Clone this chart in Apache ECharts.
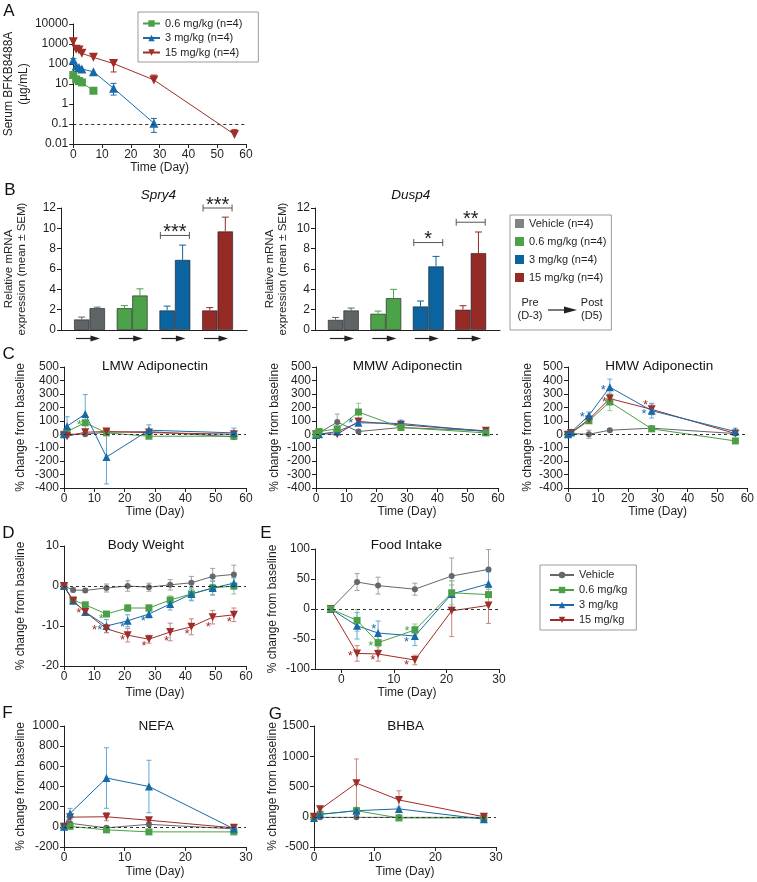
<!DOCTYPE html>
<html>
<head>
<meta charset="utf-8">
<script src="https://cdn.jsdelivr.net/npm/echarts@6.0.0/dist/echarts.min.js"></script>
<style>
html,body{margin:0;padding:0;background:#ffffff;}
#chart{width:757px;height:882px;}
</style>
</head>
<body>
<div id="chart"></div>
<script>
// ================= DATA =================
// Panel A: serum BFKB8488A (ug/mL)
const pkDays06 = [0, 1, 2, 3, 7];
const pk06 = [28, 17, 14, 12, 4.6];
const pk06Lo = [28, 17, 14, 12, 4.6];
const pk06Hi = [31, 17, 14, 12, 4.6];
const pkDays3 = [0, 1, 2, 3, 7, 14, 28];
const pk3 = [158, 79, 66, 56, 41, 6.1, 0.11];
const pk3Lo = [158, 79, 66, 56, 41, 2.8, 0.038];
const pk3Hi = [185, 79, 66, 56, 41, 10.8, 0.19];
const pkDays15 = [0, 1, 2, 3, 7, 14, 28, 56];
const pk15 = [1300, 540, 500, 340, 215, 105, 16, 0.03];
const pk15Lo = [1300, 540, 500, 340, 215, 40, 16, 0.03];
const pk15Hi = [1300, 540, 500, 340, 215, 140, 28, 0.052];
const pkLimit = 0.1;
const pkNames = ['0.6 mg/kg (n=4)', '3 mg/kg (n=4)', '15 mg/kg (n=4)'];

// Panel B: relative mRNA expression, Pre (D-3) and Post (D5)
const bGroupNames = ['Vehicle (n=4)', '0.6 mg/kg (n=4)', '3 mg/kg (n=4)', '15 mg/kg (n=4)'];
const bGroupPos = [1, 2, 3, 4];
const spryPre = [1.04, 2.15, 1.93, 1.93];
const spryPreErr = [0.23, 0.25, 0.42, 0.27];
const spryPost = [2.15, 3.4, 6.9, 9.7];
const spryPostErr = [0.1, 0.65, 1.45, 1.4];
const duspPre = [1.0, 1.6, 2.32, 2.0];
const duspPreErr = [0.23, 0.26, 0.53, 0.39];
const duspPost = [1.93, 3.14, 6.26, 7.57];
const duspPostErr = [0.23, 0.86, 0.98, 2.07];
const spryBracketPos = [3, 4];
const spryBracketY = [9.3, 12.0];
const spryBracketTxt = ['***', '***'];
const duspBracketPos = [3, 4];
const duspBracketY = [8.6, 10.6];
const duspBracketTxt = ['*', '**'];

// Panel C: adiponectin, % change from baseline
const cDays = [0, 1, 7, 14, 28, 56];
const lmwVeh = [0, 0, 0, 15, 20, -20];
const lmwVehErr = [5, 10, 10, 10, 10, 15];
const lmwLow = [0, 20, 85, 10, -15, -15];
const lmwLowErr = [5, 10, 20, 10, 10, 10];
const lmwMid = [0, 60, 150, -170, 30, 10];
const lmwMidErr = [10, 70, 145, 200, 40, 35];
const lmwHigh = [-10, -15, 15, 20, 12, 0];
const lmwHighErr = [5, 10, 10, 10, 10, 10];
const lmwStarsLow = [[5, 95]];

const mmwVeh = [0, 10, 90, 20, 50, 25];
const mmwVehErr = [5, 10, 60, 15, 10, 10];
const mmwLow = [0, 20, 40, 165, 50, 10];
const mmwLowErr = [5, 10, 15, 65, 10, 5];
const mmwMid = [-5, 0, 20, 85, 80, 20];
const mmwMidErr = [5, 5, 10, 20, 25, 10];
const mmwHigh = [0, 5, 0, 95, 70, 25];
const mmwHighErr = [5, 5, 5, 20, 15, 10];
const mmwStarsMid = [[11.5, 105]];

const hmwVeh = [0, 5, 0, 30, 45, 5];
const hmwVehErr = [5, 5, 30, 10, 10, 10];
const hmwLow = [0, 10, 100, 240, 40, -50];
const hmwLowErr = [5, 5, 10, 65, 10, 10];
const hmwMid = [0, 15, 140, 350, 175, 20];
const hmwMidErr = [5, 5, 25, 60, 55, 25];
const hmwHigh = [-5, 10, 110, 265, 185, 5];
const hmwHighErr = [5, 5, 10, 30, 40, 10];
const hmwStarsMid = [[4.75, 150], [11.8, 353], [25.4, 175]];
const hmwStarsHigh = [[12.2, 260], [25.9, 240]];

// Panel D: body weight
const dDays = [0, 3, 7, 14, 21, 28, 35, 42, 49, 56];
const bwVeh = [0, -1, -1.1, -0.5, 0, -0.3, 0.3, 0.8, 2.4, 2.9];
const bwVehErr = [0.3, 0.5, 0.5, 1, 1.3, 1, 1.3, 1.6, 2, 2.3];
const bwLow = [0, -3.5, -4.7, -7, -5.5, -5.5, -3.5, -2, -0.5, 0];
const bwLowErr = [0.3, 0.6, 0.6, 0.6, 0.8, 0.8, 1, 1.5, 1.8, 2];
const bwMid = [0, -3.7, -6.5, -10, -8.7, -7, -4.5, -2, -0.5, 0.7];
const bwMidErr = [0.3, 0.6, 0.8, 1.6, 1.5, 1, 1.5, 1.7, 1.7, 1.5];
const bwHigh = [0, -3.7, -6.5, -10.7, -12.3, -13.3, -11.5, -10.2, -7.8, -7.2];
const bwHighErr = [0.3, 0.6, 0.8, 1, 1.7, 1, 2.2, 2, 1.7, 1.7];
const bwStarsLow = [[12.3, -7.4]];
const bwStarsMid = [[11.8, -10.2], [19.3, -9.6], [26.1, -7.9]];
const bwStarsHigh = [[4.85, -6.1], [10.1, -10.2], [19.3, -12.7], [26.4, -14.2], [33.8, -12.9], [40.6, -11.2], [47.6, -9.4], [54.5, -8.2]];

// Panel E: food intake
const eDays = [-2, 3, 7, 14, 21, 28];
const eXTicks = [0, 10, 20, 30];
const fiVeh = [0, 45, 39, 33, 55, 66];
const fiVehErr = [0, 14, 14, 10, 30, 33];
const fiLow = [0, -19, -56, -35, 27, 24];
const fiLowErr = [0, 18, 12, 10, 20, 14];
const fiMid = [0, -28, -40, -45, 25, 42];
const fiMidErr = [0, 22, 20, 16, 22, 20];
const fiHigh = [0, -74, -75, -85, -3, 6];
const fiHighErr = [0, 13, 12, 8, 43, 30];
const fiStarsLow = [[5.6, -56], [12.5, -32]];
const fiStarsMid = [[6.2, -29], [12.4, -50]];
const fiStarsHigh = [[1.7, -74], [6.0, -80], [12.4, -89]];

// Panel F: NEFA
const fDays = [0, 1, 7, 14, 28];
const nefaVeh = [0, 35, -10, 25, -20];
const nefaVehErr = [5, 10, 20, 20, 10];
const nefaLow = [5, 5, -30, -50, -50];
const nefaLowErr = [5, 10, 10, 10, 10];
const nefaMid = [0, 133, 484, 400, -20];
const nefaMidErr = [10, 50, 300, 260, 10];
const nefaHigh = [0, 96, 100, 65, -10];
const nefaHighErr = [5, 20, 40, 20, 10];

// Panel G: BHBA
const gDays = [0, 1, 7, 14, 28];
const bhbaVeh = [0, -10, -10, -10, -10];
const bhbaVehErr = [5, 5, 5, 5, 5];
const bhbaLow = [0, 40, 100, -20, -20];
const bhbaLowErr = [5, 10, 30, 10, 10];
const bhbaMid = [-20, 40, 100, 130, -40];
const bhbaMidErr = [5, 10, 20, 30, 10];
const bhbaHigh = [0, 122, 555, 278, 0];
const bhbaHighErr = [5, 30, 400, 150, 10];

// ================= STYLE =================
const FONT = '"Liberation Sans", Arial, Helvetica, sans-serif';
const INK = '#231f20';
const LINE_COL = {veh: '#64686b', low: '#4a9f47', mid: '#176aa8', high: '#9f2d29'};
const ERR_COL = {veh: '#a0a0a0', low: '#8fc98b', mid: '#62a9db', high: '#c98581'};
const BAR_COL = ['#5f6467', '#4ba248', '#0b64a0', '#952a27'];
const DOWN_TRI = 'path://M0,0L10,0L5,8.66Z';
const SYM = {veh: 'circle', low: 'rect', mid: 'triangle', high: DOWN_TRI};
const SYM_SIZE = {veh: 6, low: 7, mid: 8, high: 8};
const NAMES = {veh: 'Vehicle', low: '0.6 mg/kg', mid: '3 mg/kg', high: '15 mg/kg'};
const BAR_W = 15.5;

const GRIDS = [
  {left: 64, top: 24, width: 182, height: 120},     // 0 A
  {left: 61, top: 208, width: 186, height: 122},    // 1 Spry4
  {left: 315, top: 208, width: 185, height: 122},   // 2 Dusp4
  {left: 64, top: 367, width: 182, height: 121},    // 3 LMW
  {left: 316, top: 367, width: 182, height: 121},   // 4 MMW
  {left: 568, top: 367, width: 182, height: 121},   // 5 HMW
  {left: 64, top: 546, width: 182, height: 120},    // 6 BW
  {left: 315, top: 549, width: 184, height: 120},   // 7 FI
  {left: 64, top: 726, width: 182, height: 121},    // 8 NEFA
  {left: 314, top: 726, width: 182, height: 121}    // 9 BHBA
];

// ================= RENDERERS =================
function errRender(cap) {
  return function (params, api) {
    const x = api.value(0), y = api.value(1), lo = api.value(2), hi = api.value(3);
    const side = api.value(4) || 0;
    const pLo = api.coord([x, lo]), pHi = api.coord([x, hi]);
    const cx = pLo[0] + side * BAR_W / 2;
    const st = {stroke: api.visual('color'), lineWidth: 1, fill: null};
    const ch = [{type: 'line', shape: {x1: cx, y1: pLo[1], x2: cx, y2: pHi[1]}, style: st}];
    if (hi > y) ch.push({type: 'line', shape: {x1: cx - cap, y1: pHi[1], x2: cx + cap, y2: pHi[1]}, style: st});
    if (lo < y) ch.push({type: 'line', shape: {x1: cx - cap, y1: pLo[1], x2: cx + cap, y2: pLo[1]}, style: st});
    return {type: 'group', children: ch};
  };
}
function starRender(fs) {
  return function (params, api) {
    const p = api.coord([api.value(0), api.value(1)]);
    return {type: 'text', x: p[0], y: p[1] + fs * 0.27,
      style: {text: '*', fill: api.visual('color'), font: fs + 'px ' + FONT, align: 'center', verticalAlign: 'middle'}};
  };
}
function bracketRender(texts) {
  return function (params, api) {
    const p = api.coord([api.value(0), api.value(1)]);
    const st = {stroke: '#555', lineWidth: 1};
    const hw = 14.5;
    return {type: 'group', children: [
      {type: 'line', shape: {x1: p[0] - hw, y1: p[1], x2: p[0] + hw, y2: p[1]}, style: st},
      {type: 'line', shape: {x1: p[0] - hw, y1: p[1] - 3.5, x2: p[0] - hw, y2: p[1] + 3.5}, style: st},
      {type: 'line', shape: {x1: p[0] + hw, y1: p[1] - 3.5, x2: p[0] + hw, y2: p[1] + 3.5}, style: st},
      {type: 'text', x: p[0], y: p[1] - 3,
        style: {text: texts[params.dataIndex], fill: '#222', font: '20px ' + FONT, align: 'center', verticalAlign: 'middle'}}
    ]};
  };
}
function arrowRender(params, api) {
  const p = api.coord([api.value(0), api.value(1)]);
  const y = p[1] + 8.5;
  return {type: 'group', children: [
    {type: 'line', shape: {x1: p[0] - 13.5, y1: y, x2: p[0] + 3, y2: y}, style: {stroke: '#222', lineWidth: 1.2}},
    {type: 'polygon', shape: {points: [[p[0] + 1, y - 3], [p[0] + 10.5, y], [p[0] + 1, y + 3]]}, style: {fill: '#222'}}
  ]};
}

// ================= AXES =================
const axisLineStyle = {color: INK, width: 1};
function plainNum(v) { return String(+(+v).toPrecision(6)); }
function baseAxis(gi) {
  return {gridIndex: gi,
    axisLine: {show: true, onZero: false, lineStyle: axisLineStyle},
    axisTick: {show: true, length: 4, lineStyle: axisLineStyle},
    axisLabel: {margin: 5, fontSize: 12, color: INK, fontFamily: FONT, formatter: plainNum},
    splitLine: {show: false},
    nameTextStyle: {fontSize: 12, color: INK, fontFamily: FONT}};
}
function xTime(gi, min, max, interval, gap) {
  return Object.assign(baseAxis(gi), {type: 'value', min: min, max: max, interval: interval,
    name: 'Time (Day)', nameLocation: 'middle', nameGap: gap});
}
function yPct(gi, min, max, interval, gap) {
  return Object.assign(baseAxis(gi), {type: 'value', min: min, max: max, interval: interval,
    name: '% change from baseline', nameLocation: 'middle', nameGap: gap});
}
function xBars(gi) {
  return Object.assign(baseAxis(gi), {type: 'value', min: 0.332, max: 4.69,
    axisTick: {show: false}, axisLabel: {show: false}});
}
function yBars(gi, gap) {
  const a = Object.assign(baseAxis(gi), {type: 'value', min: 0, max: 12, interval: 2,
    name: 'Relative mRNA\nexpression (mean \u00b1 SEM)', nameLocation: 'middle', nameGap: gap});
  a.nameTextStyle = {fontSize: 11.5, lineHeight: 12.5, color: INK, fontFamily: FONT};
  return a;
}
const xE = xTime(7, -5, 30, undefined, 18);
xE.axisLabel = Object.assign({}, xE.axisLabel, {customValues: eXTicks});
xE.axisTick = Object.assign({}, xE.axisTick, {customValues: eXTicks});

const yA = Object.assign(baseAxis(0), {type: 'log', logBase: 10, min: 0.01, max: 10000,
  name: 'Serum BFKB8488A\n(\u00b5g/mL)', nameLocation: 'middle', nameGap: 34});
yA.axisLabel = Object.assign({}, yA.axisLabel, {formatter: function (v) { return String(+(+v).toPrecision(3)); }});
yA.nameTextStyle = {fontSize: 12, lineHeight: 15, color: INK, fontFamily: FONT};

const xAxes = [
  xTime(0, 0, 60, 10, 17),
  xBars(1), xBars(2),
  xTime(3, 0, 60, 10, 18), xTime(4, 0, 60, 10, 18), xTime(5, 0, 60, 10, 18),
  xTime(6, 0, 60, 10, 21),
  xE,
  xTime(8, 0, 30, 10, 19), xTime(9, 0, 30, 10, 19)
];
const yAxes = [
  yA,
  yBars(1, 33), yBars(2, 26),
  yPct(3, -400, 500, 100, 37), yPct(4, -400, 500, 100, 35), yPct(5, -400, 500, 100, 34),
  yPct(6, -20, 10, 10, 37),
  yPct(7, -100, 100, 50, 36),
  yPct(8, -200, 1000, 200, 37),
  yPct(9, -500, 1500, 500, 33)
];

// ================= SERIES =================
const series = [];
function refLine(v) {
  return {silent: true, symbol: 'none', label: {show: false}, animation: false,
    lineStyle: {type: [3, 3], color: '#333', width: 1}, data: [{yAxis: v}]};
}
function addDose(gi, key, xs, ys, es, zeroLine) {
  const s = {type: 'line', name: NAMES[key], xAxisIndex: gi, yAxisIndex: gi,
    data: xs.map(function (x, i) { return [x, ys[i]]; }),
    symbol: SYM[key], symbolSize: SYM_SIZE[key], showAllSymbol: true,
    itemStyle: {color: LINE_COL[key]}, lineStyle: {color: LINE_COL[key], width: 1},
    z: 4, emphasis: {disabled: true}};
  if (zeroLine) s.markLine = refLine(0);
  series.push(s);
  series.push({type: 'custom', xAxisIndex: gi, yAxisIndex: gi, renderItem: errRender(2.5),
    encode: {x: 0, y: 1}, itemStyle: {color: ERR_COL[key]}, z: 3, silent: true,
    data: xs.map(function (x, i) { return [x, ys[i], ys[i] - es[i], ys[i] + es[i], 0]; })});
}
function addStars(gi, key, pts) {
  series.push({type: 'custom', xAxisIndex: gi, yAxisIndex: gi, renderItem: starRender(13),
    encode: {x: 0, y: 1}, itemStyle: {color: LINE_COL[key]}, z: 5, silent: true, data: pts});
}

// Panel A
const pkSets = [
  [pkDays06, pk06, pk06Lo, pk06Hi, 'low'],
  [pkDays3, pk3, pk3Lo, pk3Hi, 'mid'],
  [pkDays15, pk15, pk15Lo, pk15Hi, 'high']
];
pkSets.forEach(function (d, k) {
  const key = d[4];
  const s = {type: 'line', name: pkNames[k], xAxisIndex: 0, yAxisIndex: 0,
    data: d[0].map(function (x, i) { return [x, d[1][i]]; }),
    symbol: SYM[key], symbolSize: key === 'low' ? 8 : 9, showAllSymbol: true,
    itemStyle: {color: LINE_COL[key]}, lineStyle: {color: LINE_COL[key], width: 1},
    z: 4, emphasis: {disabled: true}};
  if (k === 0) s.markLine = refLine(pkLimit);
  series.push(s);
  series.push({type: 'custom', xAxisIndex: 0, yAxisIndex: 0, renderItem: errRender(3),
    encode: {x: 0, y: 1}, itemStyle: {color: LINE_COL[key]}, z: 3, silent: true,
    data: d[0].map(function (x, i) { return [x, d[1][i], d[2][i], d[3][i], 0]; })});
});

// Panel B
function addBars(gi, pre, preErr, post, postErr, bPos, bY, bTxt, tag) {
  [[pre, 'Pre'], [post, 'Post']].forEach(function (pp) {
    series.push({type: 'bar', name: pp[1] + tag, xAxisIndex: gi, yAxisIndex: gi, barWidth: BAR_W, barGap: '0%',
      itemStyle: {borderColor: 'rgba(25,25,25,0.75)', borderWidth: 0.8}, z: 2, silent: true,
      data: bGroupPos.map(function (g, i) { return {value: [g, pp[0][i]], itemStyle: {color: BAR_COL[i]}}; })});
  });
  [[pre, preErr, -1], [post, postErr, 1]].forEach(function (pe) {
    series.push({type: 'custom', xAxisIndex: gi, yAxisIndex: gi, renderItem: errRender(3.5),
      encode: {x: 0, y: 1}, z: 3, silent: true,
      data: bGroupPos.map(function (g, i) {
        return {value: [g, pe[0][i], pe[0][i], pe[0][i] + pe[1][i], pe[2]], itemStyle: {color: BAR_COL[i]}};
      })});
  });
  series.push({type: 'custom', xAxisIndex: gi, yAxisIndex: gi, renderItem: bracketRender(bTxt),
    encode: {x: 0, y: 1}, z: 3, silent: true,
    data: bPos.map(function (g, i) { return [g, bY[i]]; })});
  series.push({type: 'custom', xAxisIndex: gi, yAxisIndex: gi, renderItem: arrowRender,
    encode: {x: 0, y: 1}, z: 3, silent: true,
    data: bGroupPos.map(function (g) { return [g, 0]; })});
}
addBars(1, spryPre, spryPreErr, spryPost, spryPostErr, spryBracketPos, spryBracketY, spryBracketTxt, ' Spry4');
addBars(2, duspPre, duspPreErr, duspPost, duspPostErr, duspBracketPos, duspBracketY, duspBracketTxt, ' Dusp4');
series.push({type: 'scatter', name: bGroupNames[0], xAxisIndex: 1, yAxisIndex: 1, data: [],
  itemStyle: {color: BAR_COL[0]}});

// Panel C
addDose(3, 'veh', cDays, lmwVeh, lmwVehErr, true);
addDose(3, 'low', cDays, lmwLow, lmwLowErr);
addDose(3, 'high', cDays, lmwHigh, lmwHighErr);
addDose(3, 'mid', cDays, lmwMid, lmwMidErr);
addStars(3, 'low', lmwStarsLow);
addDose(4, 'veh', cDays, mmwVeh, mmwVehErr, true);
addDose(4, 'high', cDays, mmwHigh, mmwHighErr);
addDose(4, 'mid', cDays, mmwMid, mmwMidErr);
addDose(4, 'low', cDays, mmwLow, mmwLowErr);
addStars(4, 'mid', mmwStarsMid);
addDose(5, 'veh', cDays, hmwVeh, hmwVehErr, true);
addDose(5, 'low', cDays, hmwLow, hmwLowErr);
addDose(5, 'high', cDays, hmwHigh, hmwHighErr);
addDose(5, 'mid', cDays, hmwMid, hmwMidErr);
addStars(5, 'mid', hmwStarsMid);
addStars(5, 'high', hmwStarsHigh);

// Panel D
addDose(6, 'veh', dDays, bwVeh, bwVehErr, true);
addDose(6, 'low', dDays, bwLow, bwLowErr);
addDose(6, 'mid', dDays, bwMid, bwMidErr);
addDose(6, 'high', dDays, bwHigh, bwHighErr);
addStars(6, 'low', bwStarsLow);
addStars(6, 'mid', bwStarsMid);
addStars(6, 'high', bwStarsHigh);

// Panel E
addDose(7, 'veh', eDays, fiVeh, fiVehErr, true);
addDose(7, 'high', eDays, fiHigh, fiHighErr);
addDose(7, 'mid', eDays, fiMid, fiMidErr);
addDose(7, 'low', eDays, fiLow, fiLowErr);
addStars(7, 'low', fiStarsLow);
addStars(7, 'mid', fiStarsMid);
addStars(7, 'high', fiStarsHigh);

// Panel F
addDose(8, 'veh', fDays, nefaVeh, nefaVehErr, true);
addDose(8, 'low', fDays, nefaLow, nefaLowErr);
addDose(8, 'high', fDays, nefaHigh, nefaHighErr);
addDose(8, 'mid', fDays, nefaMid, nefaMidErr);

// Panel G
addDose(9, 'veh', gDays, bhbaVeh, bhbaVehErr, true);
addDose(9, 'low', gDays, bhbaLow, bhbaLowErr);
addDose(9, 'mid', gDays, bhbaMid, bhbaMidErr);
addDose(9, 'high', gDays, bhbaHigh, bhbaHighErr);

// ================= LEGENDS & TEXT =================
const legendText = {fontSize: 11, color: INK, fontFamily: FONT};
const legends = [
  {left: 138, top: 12, orient: 'vertical', padding: [6, 16, 4, 4], itemGap: 3.5,
    itemWidth: 17, itemHeight: 8, borderColor: '#9a9a9a', borderWidth: 1,
    textStyle: legendText, selectedMode: false, data: pkNames},
  {left: 510, top: 215, orient: 'vertical', padding: [3, 5, 47, 5], itemGap: 7,
    itemWidth: 9, itemHeight: 9, borderColor: '#9a9a9a', borderWidth: 1,
    textStyle: legendText, selectedMode: false,
    data: bGroupNames.map(function (n, i) {
      return {name: n, icon: 'rect', itemStyle: {color: BAR_COL[i], borderWidth: 0}};
    })},
  {left: 540, top: 565, orient: 'vertical', padding: [4.5, 9, 4.5, 9], itemGap: 4,
    itemWidth: 24, itemHeight: 8, borderColor: '#9a9a9a', borderWidth: 1,
    textStyle: legendText, selectedMode: false,
    data: [NAMES.veh, NAMES.low, NAMES.mid, NAMES.high]}
];

const panelLetters = [['A', 9, 11], ['B', 10, 190.5], ['C', 8.7, 354], ['D', 8.3, 533], ['E', 266, 533], ['F', 7.5, 713], ['G', 275.3, 714]];
const panelTitles = [
  ['Spry4', 158.3, 195, 'italic'], ['Dusp4', 410.8, 195, 'italic'],
  ['LMW Adiponectin', 155, 366], ['MMW Adiponectin', 407.5, 366], ['HMW Adiponectin', 659.3, 366],
  ['Body Weight', 145.8, 545.5], ['Food Intake', 406.3, 545.5], ['NEFA', 156.2, 726], ['BHBA', 405.7, 726]
];
const graphics = [];
panelLetters.forEach(function (t) {
  graphics.push({type: 'text', x: t[1], y: t[2], silent: true,
    style: {text: t[0], fill: '#111', font: '17px ' + FONT, align: 'center', verticalAlign: 'middle'}});
});
panelTitles.forEach(function (t) {
  graphics.push({type: 'text', x: t[1], y: t[2], silent: true,
    style: {text: t[0], fill: '#111', font: (t[3] || 'normal') + ' 13.5px ' + FONT, align: 'center', verticalAlign: 'middle'}});
});
[['Pre', 530, 302.5], ['(D-3)', 530, 316], ['Post', 591.8, 302.5], ['(D5)', 591.8, 316]].forEach(function (t) {
  graphics.push({type: 'text', x: t[1], y: t[2], silent: true,
    style: {text: t[0], fill: '#222', font: '11px ' + FONT, align: 'center', verticalAlign: 'middle'}});
});
graphics.push({type: 'line', silent: true, shape: {x1: 548, y1: 310, x2: 566, y2: 310}, style: {stroke: '#222', lineWidth: 1.2}});
graphics.push({type: 'polygon', silent: true, shape: {points: [[564, 306.5], [577, 310], [564, 313.5]]}, style: {fill: '#222'}});

const chart = echarts.init(document.getElementById('chart'), null, {renderer: 'canvas'});
chart.setOption({
  animation: false,
  backgroundColor: '#ffffff',
  textStyle: {fontFamily: FONT},
  grid: GRIDS,
  xAxis: xAxes,
  yAxis: yAxes,
  legend: legends,
  graphic: graphics,
  series: series
});
</script>
</body>
</html>
